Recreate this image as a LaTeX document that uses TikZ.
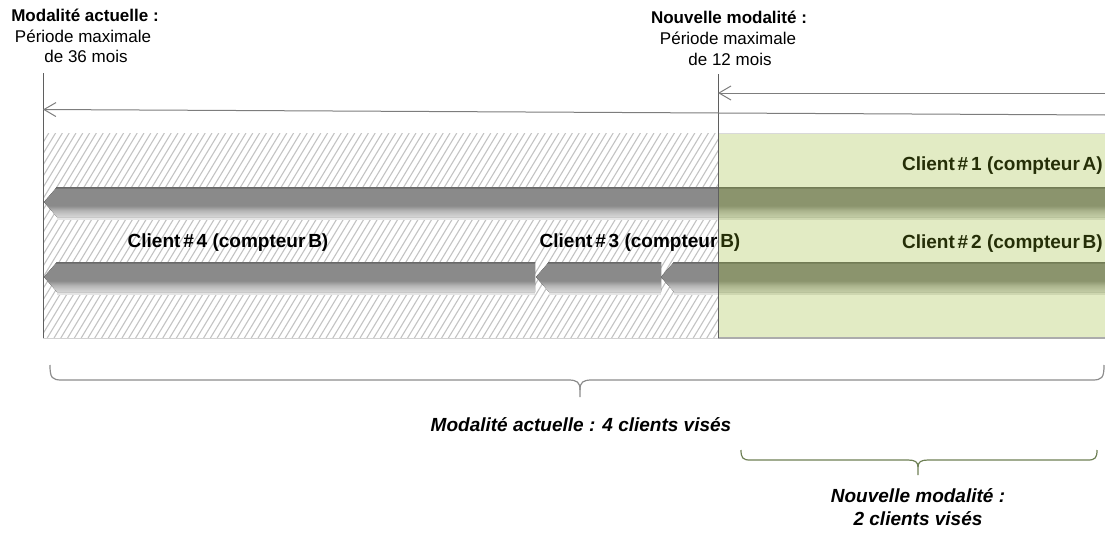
\documentclass[tikz,border=0pt]{standalone}
\usepackage{fontspec}
\setmainfont{Liberation Sans}
\usetikzlibrary{arrows.meta}
\definecolor{barmid}{RGB}{138,138,138}
\definecolor{bartop}{RGB}{105,105,105}
\definecolor{barlow}{RGB}{215,215,215}
\definecolor{hatchc}{RGB}{195,195,195}
\definecolor{greenov}{RGB}{143,178,28}
\definecolor{vline}{RGB}{95,95,95}
\definecolor{aline}{RGB}{125,125,125}
\definecolor{braceA}{RGB}{140,140,140}
\definecolor{braceB}{RGB}{110,128,85}
\pgfdeclareverticalshading{barshade}{100bp}{color(0bp)=(barlow); color(25bp)=(barlow); color(29bp)=(barlow!85!barmid); color(36bp)=(barmid!45!barlow); color(44bp)=(barmid); color(72bp)=(barmid); color(74bp)=(bartop); color(100bp)=(bartop)}
\newcommand\tsp{\hspace{0.15em}}
\newcommand\clbar[4]{% tip x, right x, top y, bottom y
  \fill[black!10] ({#1+13},#4) -- (#2,#4) -- (#2,{#4+3}) -- ({#1+13},{#4+3}) -- cycle;
  \fill[shading=barshade] (#1,{(#3+#4)/2}) -- ({#1+13},#3) -- (#2,#3) -- (#2,#4) -- ({#1+13},#4) -- cycle;}
\tikzset{
  toplab/.style={inner sep=0pt, font=\fontsize{17}{20}\selectfont},
  cllab/.style={inner sep=0pt, font=\fontsize{19}{22}\selectfont\bfseries},
  botlab/.style={inner sep=0pt, align=center, font=\fontsize{19}{23}\selectfont\bfseries\itshape},
  timeline/.style={aline, line width=1pt, -{Straight Barb[length=12pt,width=14pt]}},
  boundary/.style={vline, line width=1pt},
  braceline/.style={line width=1.2pt}
}
\begin{document}
\begin{tikzpicture}[x=1pt,y=-1pt]
\useasboundingbox (0,0) rectangle (1105,535);
% hatched zone
\begin{scope}
  \clip (43,133) rectangle (718,338);
  \foreach \i in {0,...,120} \draw[hatchc, line width=1.1pt] ({-82+\i*6.8},338) -- ++(124,-205);
\end{scope}
% bars
\clbar{44}{1106}{187}{217}
\clbar{44}{535}{262}{292}
\clbar{536}{661}{262}{292}
\clbar{661}{1106}{262}{292}
% client labels
\node[cllab, anchor=east] (c1) at (1103,166) {Client\tsp\#\tsp 1 (compteur\tsp A)};
\node[cllab, anchor=east] (c2) at (1103,244) {Client\tsp\#\tsp 2 (compteur\tsp B)};
\node[cllab] (c3) at (640,243) {Client\tsp\#\tsp 3 (compteur\tsp B)};
\node[cllab] (c4) at (228,243) {Client\tsp\#\tsp 4 (compteur\tsp B)};
% green overlay
\fill[greenov, fill opacity=0.26] (718,133) rectangle (1105,338);
\draw[gray!30, line width=0.8pt] (718,133) -- (1105,133);
\draw[gray!35, line width=1pt] (43,338) -- (718,338);
\draw[gray!65, line width=1.6pt] (718,338) -- (1105,338);
% boundaries
\coordinate (la) at (43,73);
\coordinate (lb) at (43,338);
\coordinate (ra) at (718,74);
\coordinate (rb) at (718,338);
\draw[boundary] (la) -- (lb);
\draw[boundary] (ra) -- (rb);
% timelines
\coordinate (t1r) at (1105,115);
\coordinate (t1l) at (43,109.5);
\coordinate (t2r) at (1105,93);
\coordinate (t2l) at (718,93);
\draw[timeline] (t1r) -- (t1l);
\draw[timeline] (t2r) -- (t2l);
% top labels
\node[toplab] (ma) at (85,15) {\bfseries Modalité actuelle :};
\node[toplab] (pa) at (83,36) {Période maximale};
\node[toplab] (da) at (86,56) {de 36 mois};
\node[toplab] (nm) at (729,17) {\bfseries Nouvelle modalité :};
\node[toplab] (pn) at (728,38) {Période maximale};
\node[toplab] (dn) at (730,59) {de 12 mois};
% braces
\draw[braceA, braceline] (50,365) .. controls (50,378) and (52,380) .. (62,380) -- (568,380)
  .. controls (577,380) and (580,382) .. (580,390) -- (580,397);
\draw[braceA, braceline] (1104,365) .. controls (1104,378) and (1102,380) .. (1092,380) -- (592,380)
  .. controls (583,380) and (580,382) .. (580,390);
\draw[braceB, braceline] (741,450) .. controls (741,458) and (743,460) .. (750,460) -- (908,460)
  .. controls (915,460) and (918,462) .. (918,467) -- (918,475);
\draw[braceB, braceline] (1097,450) .. controls (1097,458) and (1095,460) .. (1088,460) -- (928,460)
  .. controls (921,460) and (918,462) .. (918,467);
% bottom labels
\node[botlab] (ba) at (581,425) {Modalité actuelle : 4 clients visés};
\node[botlab] (bn) at (918,507) {Nouvelle modalité :\\2 clients visés};
\end{tikzpicture}
\end{document}
